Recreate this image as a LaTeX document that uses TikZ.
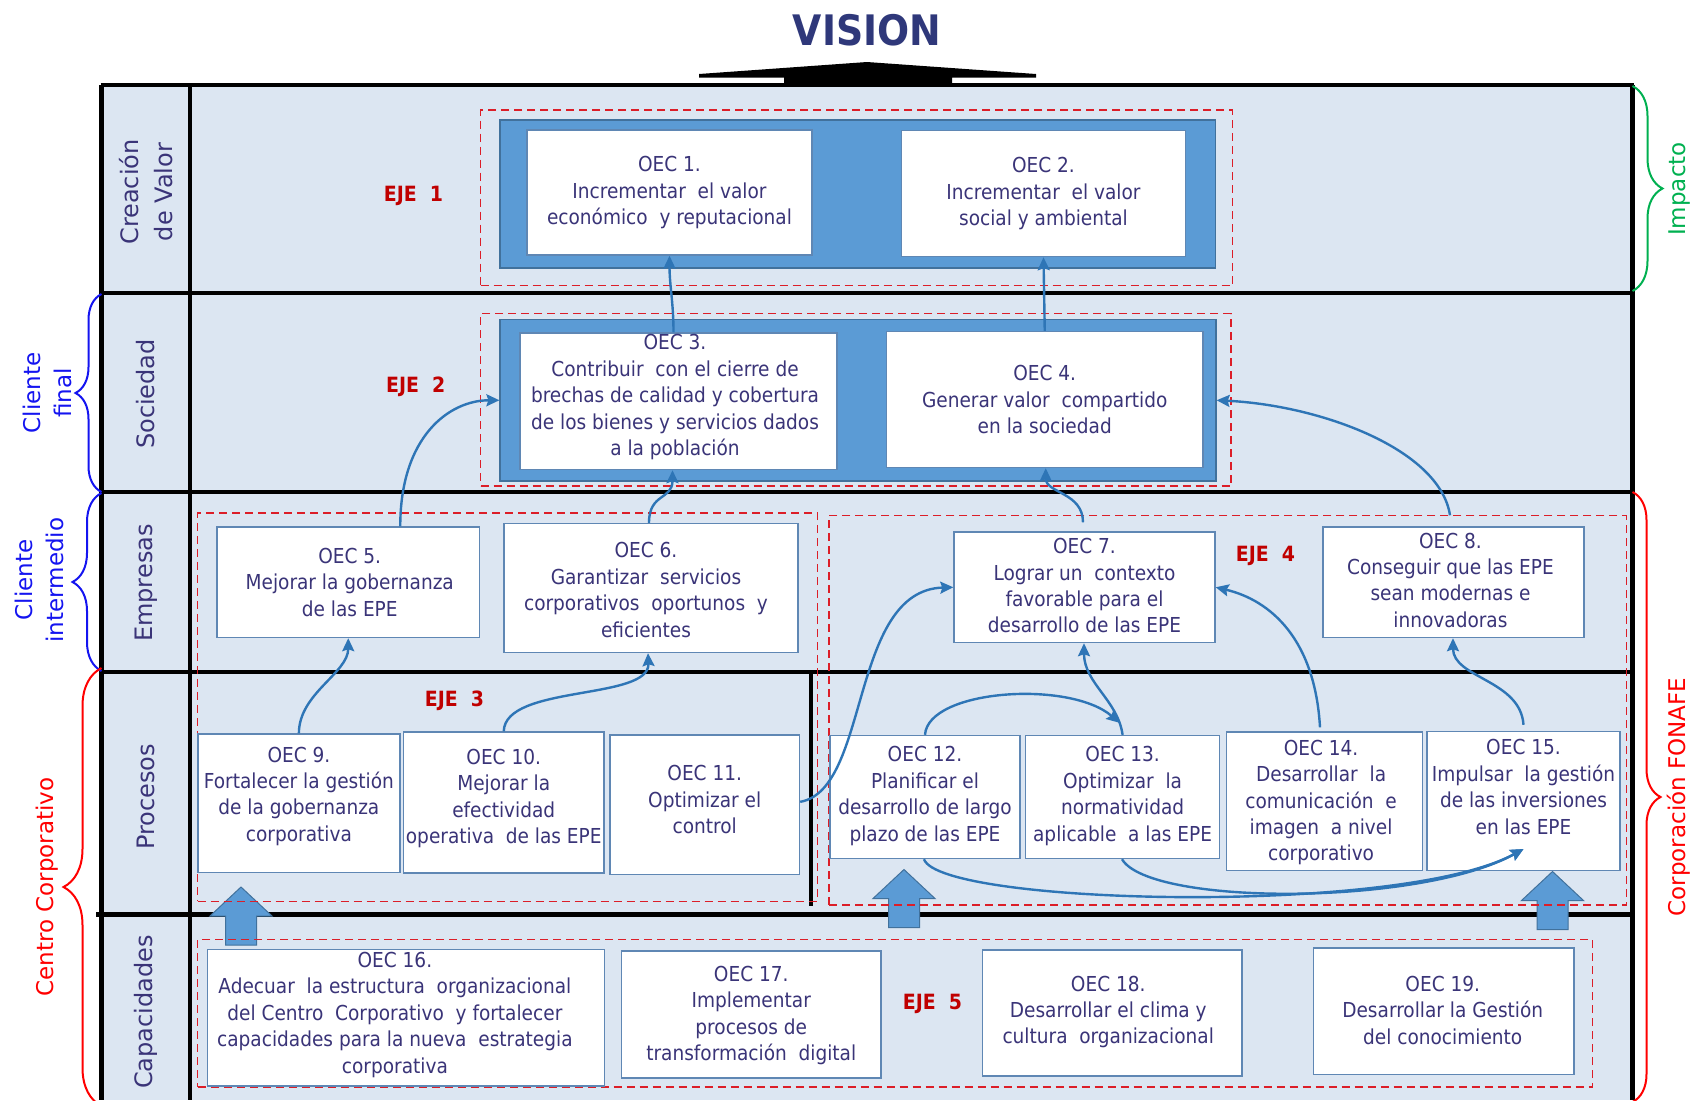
\documentclass[tikz,border=0pt]{standalone}
\usepackage{fontspec}
\setmainfont{DejaVu Sans}
\newfontfamily\cond{DejaVu Sans Condensed}
\usetikzlibrary{calc,fit,decorations.pathreplacing,arrows.meta}

\definecolor{bgblue}{RGB}{220,230,242}
\definecolor{bluefill}{RGB}{91,155,213}
\definecolor{blueedge}{RGB}{65,113,156}
\definecolor{connblue}{RGB}{46,117,182}
\definecolor{boxedge}{RGB}{95,135,180}
\definecolor{ejered}{RGB}{220,30,40}
\definecolor{ejetext}{RGB}{192,0,0}
\definecolor{txt}{RGB}{58,52,120}
\definecolor{visionblue}{RGB}{47,56,122}
\definecolor{bracegreen}{RGB}{0,176,80}
\definecolor{braceblue}{RGB}{20,20,240}
\definecolor{bracered}{RGB}{255,0,0}

\tikzset{
  oec/.style={draw=boxedge, line width=0.7pt, fill=white, inner sep=0pt},
  oectext/.style={inner sep=0pt, align=center, text=txt, font=\cond\fontsize{10.3}{13.2}\selectfont},
  bluebox/.style={draw=blueedge, line width=0.6pt, fill=bluefill, inner sep=0pt},
  ejebox/.style={draw=ejered, dash pattern=on 4pt off 2.5pt, line width=0.75pt, inner sep=0pt},
  ejelabel/.style={text=ejetext, font=\cond\bfseries\fontsize{10.5}{12}\selectfont},
  frame/.style={line width=2.1pt, draw=black},
  rowlabel/.style={rotate=90, align=center, text=txt, font=\fontsize{12}{17}\selectfont},
  sidelabel/.style={rotate=90, align=center, font=\fontsize{11.5}{15.5}\selectfont},
  barrow/.style={fill=bluefill, draw=blueedge, line width=0.5pt},
  conn/.style={draw=connblue, line width=1.2pt, -{Stealth[length=6.5pt,width=6pt,inset=1pt]}},
  bracedeco/.style={decorate, line width=1pt},
}

\newcommand{\oecbox}[5]{%
  \node[oec, fit={#2 #3}] (#1) {};
  \node[oectext] (#1t) at ($(#1.center)+#4$) {#5};}
\newcommand{\blockarrow}[2]{%
  \draw[barrow] (#1,#2) -- ++(31,29) -- ++(-15.5,0) -- ++(0,29) -- ++(-31,0) -- ++(0,-29) -- ++(-15.5,0) -- cycle;}

\begin{document}
\begin{tikzpicture}[x=0.5pt,y=-0.5pt]
\useasboundingbox (0,0) rectangle (1693,1100);

% title and arrow
\node[text=visionblue, font=\cond\bfseries\fontsize{21}{24}\selectfont] (vision) at (867,30) {VISION};
\fill[black] (699,74) -- (867,62) -- (1036,74) -- (1036,77.5) -- (952,77.5) -- (952,86) -- (784,86) -- (784,77.5) -- (699,77.5) -- cycle;

% background and frame
\fill[bgblue] (101.5,85) rectangle (1632.5,1100);
\draw[frame] (100.5,85) -- (1633.5,85);
\draw[frame] (101.5,292.6) -- (1632.5,292.6);
\draw[frame] (101.5,492) -- (1632.5,492);
\draw[frame] (101.5,671.6) -- (1632.5,671.6);
\draw[frame] (96,914.5) -- (1632.5,914.5);
\draw[frame] (101.5,85) -- (101.5,1100);
\draw[frame] (190,85) -- (190,1100);
\draw[frame] (1632.5,85) -- (1632.5,1100);
\draw[frame] (811,671.6) -- (811,906);

% row labels
\node[rowlabel] (r1) at (146,192) {Creación\\de Valor};
\node[rowlabel] (r2) at (146,394) {Sociedad};
\node[rowlabel] (r3) at (146,583) {Empresas};
\node[rowlabel] (r4) at (146,797) {Procesos};
\node[rowlabel] (r5) at (146,1012) {Capacidades};

% block arrows
\blockarrow{241}{887}
\blockarrow{904}{869.5}
\blockarrow{1552.5}{871.5}

% dashed groups
\node[ejebox, fit={(480.5,110) (1232.5,285.5)}] (e1) {};
\node[ejebox, fit={(480.5,313.5) (1231,486)}] (e2) {};
\node[ejebox, fit={(197.6,512.8) (817.3,901.3)}] (e3) {};
\node[ejebox, fit={(829,515.6) (1626.5,905)}] (e4) {};
\node[ejebox, fit={(197.6,939.5) (1592.6,1087)}] (e5) {};

% blue containers
\node[bluebox, fit={(500,120) (1215.5,268)}] (b1) {};
\node[bluebox, fit={(500,319.5) (1216,481)}] (b2) {};

% EJE labels
\node[ejelabel] (l1) at (413.5,195.5) {EJE\ \ 1};
\node[ejelabel] (l2) at (415.7,386.5) {EJE\ \ 2};
\node[ejelabel] (l3) at (454.5,701) {EJE\ \ 3};
\node[ejelabel] (l4) at (1265.5,555.5) {EJE\ \ 4};
\node[ejelabel] (l5) at (932.5,1003.5) {EJE\ \ 5};

% OEC boxes
\oecbox{o1}{(527,130)}{(812,255)}{(0,0)}{OEC 1.\\Incrementar\ \ el valor\\económico\ \ y reputacional}
\oecbox{o2}{(901.5,130.5)}{(1185.5,256.5)}{(0,0)}{OEC 2.\\Incrementar\ \ el valor\\social y ambiental}
\oecbox{o3}{(520,333)}{(837,469.5)}{(-3.5,-4)}{OEC 3.\\Contribuir\ \ con el cierre de\\brechas de calidad y cobertura\\de los bienes y servicios dados\\a la población}
\oecbox{o4}{(886.5,331.5)}{(1203,467.5)}{(0,0)}{OEC 4.\\Generar valor\ \ compartido\\en la sociedad}
\oecbox{o5}{(217,527)}{(479.5,637.5)}{(1.5,0)}{OEC 5.\\Mejorar la gobernanza\\de las EPE}
\oecbox{o6}{(504,523.5)}{(798,652.5)}{(-5,2)}{OEC 6.\\Garantizar\ \ servicios\\corporativos\ \ oportunos\ \ y\\eficientes}
\oecbox{o7}{(954,532)}{(1215,642.5)}{(0,-1.5)}{OEC 7.\\Lograr un\ \ contexto\\favorable para el\\desarrollo de las EPE}
\oecbox{o8}{(1323,527)}{(1584,637.5)}{(-3,-2)}{OEC 8.\\Conseguir que las EPE\\sean modernas e\\innovadoras}
\oecbox{o9}{(197.8,734)}{(400,872.5)}{(0,-7)}{OEC 9.\\Fortalecer la gestión\\de la gobernanza\\corporativa}
\oecbox{o10}{(403.5,732)}{(604,873)}{(0,-4)}{OEC 10.\\Mejorar la\\efectividad\\operativa\ \ de las EPE}
\oecbox{o11}{(610,735)}{(799.5,874.6)}{(0,-5)}{OEC 11.\\Optimizar el\\control}
\oecbox{o12}{(830,735.5)}{(1020,858.5)}{(0,-1)}{OEC 12.\\Planificar el\\desarrollo de largo\\plazo de las EPE}
\oecbox{o13}{(1025.7,735.5)}{(1219.5,858.5)}{(0,-1)}{OEC 13.\\Optimizar\ \ la\\normatividad\\aplicable\ \ a las EPE}
\oecbox{o14}{(1226.5,732)}{(1422.7,870.3)}{(-3.5,1.5)}{OEC 14.\\Desarrollar\ \ la\\comunicación\ \ e\\imagen\ \ a nivel\\corporativo}
\oecbox{o15}{(1427,731.5)}{(1620,870.3)}{(0,-14)}{OEC 15.\\Impulsar\ \ la gestión\\de las inversiones\\en las EPE}
\oecbox{o16}{(207.5,949.7)}{(604.3,1085.8)}{(-11,-3)}{OEC 16.\\Adecuar\ \ la estructura\ \ organizacional\\del Centro\ \ Corporativo\ \ y fortalecer\\capacidades para la nueva\ \ estrategia\\corporativa}
\oecbox{o17}{(621.5,951)}{(881,1078)}{(0,1)}{OEC 17.\\Implementar\\procesos de\\transformación\ \ digital}
\oecbox{o18}{(982.5,950)}{(1242,1076)}{(-4,-1)}{OEC 18.\\Desarrollar el clima y\\cultura\ \ organizacional}
\oecbox{o19}{(1313.5,948)}{(1574,1074.3)}{(-1,-1)}{OEC 19.\\Desarrollar la Gestión\\del conocimiento}

% connectors
\draw[conn] ($(o3.north)+(-5,0)$) .. controls +(0,-30) and +(0,30) .. (o1.south);
\draw[conn] (o4.north) -- (o2.south);
\draw[conn] ($(o5.north)+(52,0)$) .. controls +(0,-90) and +(-50,0) .. (b2.west);
\draw[conn] ($(o6.north)+(-2,0)$) .. controls +(0,-30) and +(0,30) .. ($(o3.south)+(-6,0)$);
\draw[conn] ($(o7.north)+(-1.5,-9)$) .. controls +(0,-30) and +(0,25) .. ($(o4.south)+(1,0)$);
\draw[conn] ($(o8.north)+(-3.5,-11)$) .. controls +(-10,-66) and +(104,5) .. (b2.east);
\draw[conn] (o9.north) .. controls +(0,-40) and +(0,35) .. (o5.south);
\draw[conn] (o10.north) .. controls +(1.25,-47) and +(2,47.5) .. ($(o6.south)+(-3,0)$);
\draw[conn] ($(o11.east)+(0,-3)$) .. controls +(70,-12) and +(-104,3) .. (o7.west);
\draw[conn] (o12.north) .. controls +(3,-45.5) and +(-50,-43) .. ($(o13.north)+(-3,-12)$);
\draw[conn] (o13.north) .. controls +(-5,-35) and +(0,40) .. ($(o7.south)+(-0.5,0)$);
\draw[conn] ($(o14.north)+(-4.6,-4)$) .. controls +(-5,-88) and +(55,13) .. (o7.east);
\draw[conn] ($(o15.north)+(0,-6)$) .. controls +(-3,-45) and +(0,40) .. ($(o8.south)+(-0.5,0)$);
\coordinate (t15) at ($(o15.south)+(0,-22)$);
\draw[conn] ($(o12.south)+(-1,0)$) .. controls +(16,46) and +(-123,67) .. (t15);
\draw[conn] ($(o13.south)+(-0.6,0)$) .. controls +(28,47) and +(-103,57) .. (t15);

% braces
\draw[bracedeco, color=braceblue, decoration={brace, amplitude=13pt}] (101.5,492) -- (101.5,294) coordinate (bf);
\draw[bracedeco, color=braceblue, decoration={brace, amplitude=14.5pt}] (101.5,671) -- (101.5,493) coordinate (bi);
\draw[bracedeco, color=bracered, decoration={brace, amplitude=19pt}] (101.5,1106) -- (101.5,668) coordinate (bc);
\draw[bracedeco, color=bracegreen, decoration={brace, amplitude=15pt}] (1632.5,86) -- (1632.5,291) coordinate (bim);
\draw[bracedeco, color=bracered, decoration={brace, amplitude=14pt}] (1632.5,492) -- (1632.5,1102) coordinate (bfo);

\node[sidelabel, text=braceblue] (cf) at (47,393) {Cliente\\final};
\node[sidelabel, text=braceblue] (ci) at (39,580) {Cliente\\intermedio};
\node[sidelabel, text=bracered] (cc) at (47,887) {Centro Corporativo};
\node[sidelabel, text=bracegreen] (im) at (1679,189) {Impacto};
\node[sidelabel, text=bracered] (cfo) at (1679,797) {Corporación FONAFE};
\end{tikzpicture}
\end{document}
